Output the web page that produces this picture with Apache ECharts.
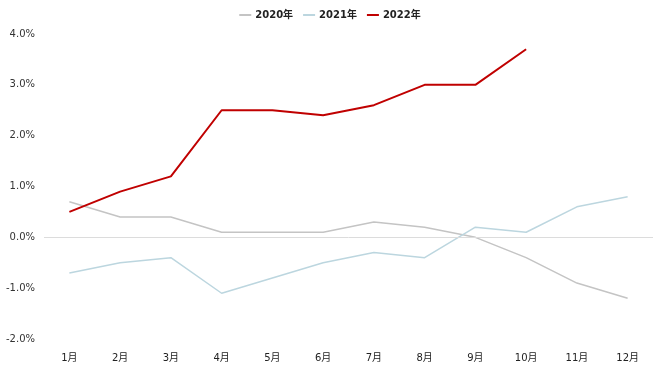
<!DOCTYPE html>
<html><head><meta charset="utf-8">
<script src="https://cdn.jsdelivr.net/npm/echarts@6/dist/echarts.min.js"></script>
<style>html,body{margin:0;padding:0;background:#fff}#c{width:660px;height:371px}</style>
</head><body><div id="c"></div>
<script>
const categories = ['1月','2月','3月','4月','5月','6月','7月','8月','9月','10月','11月','12月'];
const s2020 = [0.7,0.4,0.4,0.1,0.1,0.1,0.3,0.2,0.0,-0.4,-0.9,-1.2];
const s2021 = [-0.7,-0.5,-0.4,-1.1,-0.8,-0.5,-0.3,-0.4,0.2,0.1,0.6,0.8];
const s2022 = [0.5,0.9,1.2,2.5,2.5,2.4,2.6,3.0,3.0,3.7];
const seriesNames = ['2020年','2021年','2022年'];
const yTicks = [-2,-1,0,1,2,3,4];

const chart = echarts.init(document.getElementById('c'));
const font = 'Verdana, "DejaVu Sans", "Noto Sans CJK JP", sans-serif';
chart.setOption({
  animation:false,
  textStyle:{fontFamily:font},
  legend:{
    top:5, left:'center', itemWidth:12, itemHeight:2, itemGap:10,
    icon:'rect',
    textStyle:{fontSize:10, fontWeight:'bold', color:'#222', fontFamily:font, padding:[0,0,0,-1]},
    data:seriesNames
  },
  grid:{left:44, right:7, top:34, bottom:32},
  xAxis:{
    type:'category', data:categories, boundaryGap:true,
    axisLine:{show:false}, axisTick:{show:false},
    axisLabel:{fontSize:10, color:'#222', margin:14, fontFamily:font}
  },
  yAxis:{
    type:'value', min:yTicks[0], max:yTicks[yTicks.length-1], interval:1,
    axisLine:{show:false}, axisTick:{show:false}, splitLine:{show:false},
    axisLabel:{fontSize:10, color:'#333', margin:9, fontFamily:font,
      formatter:v=>v.toFixed(1)+'%'}
  },
  series:[
    {name:seriesNames[0], type:'line', data:s2020, symbol:'none',
     lineStyle:{color:'#c4c4c4', width:1.5}, itemStyle:{color:'#c4c4c4'},
     markLine:{silent:true, symbol:'none', label:{show:false},
       lineStyle:{color:'#dcdcdc', width:1, type:'solid'}, data:[{yAxis:0}]}},
    {name:seriesNames[1], type:'line', data:s2021, symbol:'none',
     lineStyle:{color:'#bcd6df', width:1.5}, itemStyle:{color:'#bcd6df'}},
    {name:seriesNames[2], type:'line', data:s2022, symbol:'none',
     lineStyle:{color:'#c00000', width:2}, itemStyle:{color:'#c00000'}}
  ]
});
</script></body></html>
